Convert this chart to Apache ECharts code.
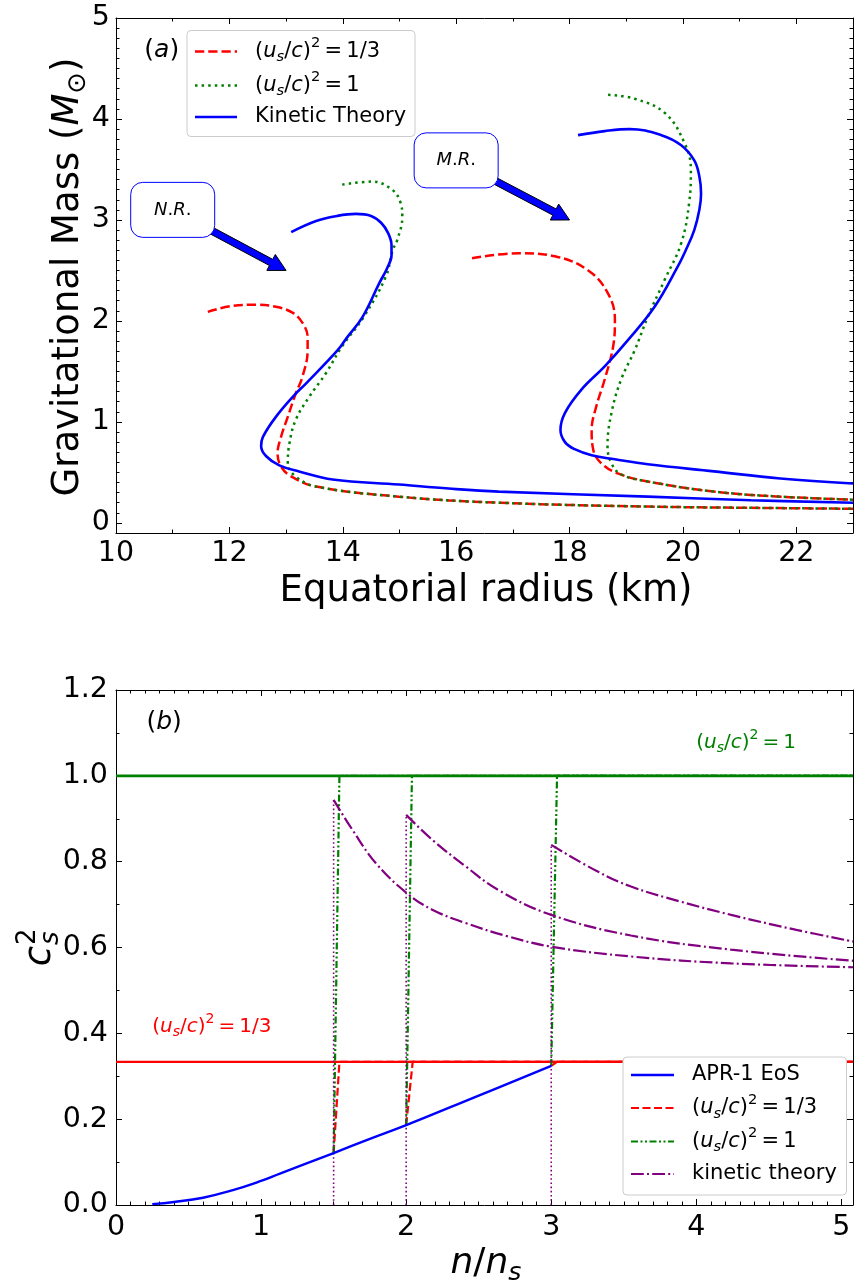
<!DOCTYPE html>
<html>
<head>
<meta charset="utf-8">
<script src="https://cdn.jsdelivr.net/npm/echarts@6/dist/echarts.min.js"></script>
<style>
  html, body { margin: 0; padding: 0; background: #fff; }
  #main { width: 856px; height: 1284px; }
</style>
</head>
<body>
<div id="main"></div>
<script>
// ---------- Panel (a): mass–radius curves, R in km, M in solar masses ----------
// N.R. branch
const nrKineticR = [13.09, 13.53, 13.9, 14.23, 14.5, 14.68, 14.80, 14.86, 14.86, 14.78, 14.64, 14.35, 14.08, 13.91, 13.35, 13.17, 12.82, 12.59, 12.56, 12.65, 12.88, 13.23, 13.82, 14.99, 15.87, 16.75, 19.38, 21.2, 23.0];
const nrKineticM = [2.88, 2.99, 3.04, 3.06, 3.04, 2.97, 2.87, 2.75, 2.65, 2.52, 2.37, 2.04, 1.84, 1.71, 1.38, 1.28, 1.05, 0.85, 0.76, 0.66, 0.57, 0.51, 0.43, 0.38, 0.34, 0.31, 0.26, 0.225, 0.20];
const nrThirdR = [11.62, 12.06, 12.47, 12.82, 13.12, 13.29, 13.38, 13.38, 13.29, 13.17, 13.03, 12.91, 12.85, 12.91, 13.09, 13.53, 14.99, 16.75, 19.38, 21.5, 23.0];
const nrThirdM = [2.09, 2.15, 2.16, 2.14, 2.08, 1.98, 1.84, 1.71, 1.45, 1.28, 1.05, 0.85, 0.69, 0.56, 0.46, 0.36, 0.26, 0.20, 0.162, 0.148, 0.14];
const nrOneR = [13.99, 14.52, 14.87, 15.02, 15.05, 14.96, 14.88, 14.76, 14.37, 13.99, 13.70, 13.41, 13.17, 13.06, 13.03, 13.17, 13.53, 14.99, 16.75, 19.38, 21.5, 23.0];
const nrOneM = [3.35, 3.38, 3.30, 3.17, 3.03, 2.80, 2.70, 2.44, 2.04, 1.75, 1.48, 1.25, 1.02, 0.79, 0.59, 0.46, 0.36, 0.26, 0.20, 0.162, 0.148, 0.14];
// M.R. branch
const mrKineticR = [18.15, 18.62, 19.06, 19.62, 19.97, 20.20, 20.29, 20.32, 20.29, 20.20, 20.05, 19.91, 19.50, 19.03, 18.62, 18.21, 17.92, 17.84, 17.92, 18.09, 18.39, 18.80, 19.38, 20.55, 21.72, 23.0];
const mrKineticM = [3.84, 3.88, 3.90, 3.84, 3.74, 3.59, 3.43, 3.26, 3.10, 2.90, 2.70, 2.54, 2.14, 1.81, 1.55, 1.32, 1.09, 0.92, 0.80, 0.73, 0.67, 0.63, 0.58, 0.51, 0.44, 0.39];
const mrThirdR = [16.28, 17.10, 17.74, 18.33, 18.68, 18.80, 18.77, 18.62, 18.47, 18.39, 18.42, 18.56, 18.85, 19.38, 20.55, 21.72, 23.0];
const mrThirdM = [2.62, 2.67, 2.64, 2.50, 2.27, 2.01, 1.75, 1.42, 1.15, 0.92, 0.72, 0.59, 0.49, 0.41, 0.31, 0.26, 0.23];
const mrOneR = [18.68, 19.15, 19.68, 20.03, 20.14, 20.11, 19.97, 19.68, 19.38, 19.15, 18.91, 18.74, 18.67, 18.74, 18.91, 19.38, 20.55, 21.72, 23.0];
const mrOneM = [4.24, 4.20, 4.06, 3.76, 3.50, 3.17, 2.77, 2.41, 2.04, 1.71, 1.42, 1.09, 0.76, 0.59, 0.48, 0.41, 0.31, 0.26, 0.23];

// ---------- Panel (b): squared sound speed vs n/n_s ----------
const aprN = [0.25, 0.4, 0.6, 0.8, 1.0, 1.13, 1.3, 1.5, 1.75, 2.0, 2.5, 3.0];
const aprCs2 = [0.002, 0.007, 0.017, 0.034, 0.056, 0.073, 0.095, 0.121, 0.154, 0.186, 0.255, 0.324];
const transN = [1.5, 2.0, 3.0];          // transition densities
const transCs2 = [0.121, 0.186, 0.324];  // APR-1 value at each transition
const thirdReachN = [1.54, 2.045, 3.04]; // where the 1/3 branch reaches 1/3
const oneReachN = [1.54, 2.04, 3.04];    // where the causal branch reaches 1
const kineticStart = [0.944, 0.909, 0.839];
const kt15N = [1.5, 1.63, 1.79, 2.0, 2.18, 2.41, 2.7, 3.0, 3.55, 4.24, 5.08];
const kt15 = [0.944, 0.874, 0.797, 0.728, 0.688, 0.657, 0.626, 0.602, 0.579, 0.563, 0.554];
const kt20N = [2.0, 2.18, 2.41, 2.64, 3.0, 3.55, 4.24, 5.08];
const kt20 = [0.909, 0.851, 0.789, 0.733, 0.676, 0.628, 0.595, 0.569];
const kt30N = [3.0, 3.32, 3.55, 3.89, 4.24, 4.69, 5.08];
const kt30 = [0.839, 0.777, 0.742, 0.707, 0.676, 0.641, 0.614];
const N_MAX = 5.08;
const CS2_THIRD = 1 / 3;
const CS2_ONE = 1;

// ---------- styles ----------
const FONT = 'DejaVu Sans';
const BLUE = '#0000ff', RED = '#ff0000', GREEN = '#008000', PURPLE = '#800080';
const stKineticA = { color: BLUE, width: 2.6, type: 'solid' };
const stThirdA = { color: RED, width: 2.5, type: [9.25, 4] };
const stOneA = { color: GREEN, width: 2.5, type: [2.5, 4.1] };
const stApr = { color: BLUE, width: 2.4, type: 'solid' };
const stThirdB = { color: RED, width: 2.2, type: [8, 3.5] };
const stOneB = { color: GREEN, width: 2.2, type: [7, 2.5, 2, 2.5, 2, 2.5] };
const stKineticB = { color: PURPLE, width: 2.2, type: [12.8, 3.2, 2, 3.2] };
const stVert = { color: PURPLE, width: 1.6, type: [1.6, 2.6] };

const zip = (xs, ys) => xs.map((x, i) => [x, ys[i]]);

function line(name, xi, yi, data, st, smooth, z) {
  return {
    type: 'line', name, xAxisIndex: xi, yAxisIndex: yi, data,
    showSymbol: false, symbol: 'none', smooth: smooth || false,
    lineStyle: { color: st.color, width: st.width, type: st.type, cap: 'butt' },
    itemStyle: { color: st.color }, silent: true, z: z || 2, clip: true
  };
}

function axis(gi, pos, min, max, extra) {
  return Object.assign({
    type: 'value', gridIndex: gi, position: pos, min, max,
    axisLine: { show: true, onZero: false, lineStyle: { color: '#000', width: 1 } },
    axisTick: { show: true, inside: true, length: 6, lineStyle: { color: '#000', width: 1 } },
    minorTick: { show: true, length: 3.5, lineStyle: { color: '#000', width: 1 } },
    splitLine: { show: false },
    minorSplitLine: { show: false },
    axisLabel: { show: false }
  }, extra);
}
const tickLabel = (fmt, margin) => ({
  show: true, color: '#000', fontFamily: FONT, fontSize: 28.5, margin, formatter: fmt
});
const minorTicks = (n) => ({ show: true, splitNumber: n, length: 3.5, lineStyle: { color: '#000' } });

const xAxes = [
  axis(0, 'bottom', 10, 23, { interval: 2, minorTick: minorTicks(2),
    axisLabel: tickLabel(v => (Math.abs(v % 2) < 1e-9 ? String(v) : ''), 6) }),
  axis(0, 'top', 10, 23, { interval: 2, minorTick: minorTicks(2) }),
  axis(1, 'bottom', 0, N_MAX, { interval: 1, minorTick: minorTicks(10),
    axisLabel: tickLabel(v => (Math.abs(v - Math.round(v)) < 1e-9 ? String(Math.round(v)) : ''), 8) }),
  axis(1, 'top', 0, N_MAX, { interval: 1, minorTick: minorTicks(10) })
];
const yAxes = [
  axis(0, 'left', -0.1, 5, { splitNumber: 5, minorTick: minorTicks(10),
    axisLabel: tickLabel(v => (Math.abs(v - Math.round(v)) < 1e-9 ? String(Math.round(v)) : ''), 6) }),
  axis(0, 'right', -0.1, 5, { splitNumber: 5, minorTick: minorTicks(10) }),
  axis(1, 'left', 0, 1.2, { interval: 0.2, minorTick: minorTicks(2),
    axisLabel: tickLabel(v => v.toFixed(1), 8) }),
  axis(1, 'right', 0, 1.2, { interval: 0.2, minorTick: minorTicks(2) })
];

const SMOOTH_A = 0.4;
const series = [
  // panel (a)
  line('third', 0, 0, zip(nrThirdR, nrThirdM), stThirdA, SMOOTH_A, 2),
  line('third', 0, 0, zip(mrThirdR, mrThirdM), stThirdA, SMOOTH_A, 2),
  line('one', 0, 0, zip(nrOneR, nrOneM), stOneA, SMOOTH_A, 3),
  line('one', 0, 0, zip(mrOneR, mrOneM), stOneA, SMOOTH_A, 3),
  line('kinetic', 0, 0, zip(nrKineticR, nrKineticM), stKineticA, SMOOTH_A, 4),
  line('kinetic', 0, 0, zip(mrKineticR, mrKineticM), stKineticA, SMOOTH_A, 4),
  // panel (b): reference levels
  line('level13', 2, 2, [[0, CS2_THIRD], [N_MAX, CS2_THIRD]], { color: RED, width: 2.2, type: 'solid' }, false, 2),
  line('level1', 2, 2, [[0, CS2_ONE], [N_MAX, CS2_ONE]], { color: GREEN, width: 2.8, type: 'solid' }, false, 2),
  line('apr', 2, 2, zip(aprN, aprCs2), stApr, 0.45, 5)
];
transN.forEach((n0, k) => {
  series.push(line('third', 2, 2, [[n0, transCs2[k]], [thirdReachN[k], CS2_THIRD], [N_MAX, CS2_THIRD]], stThirdB, false, 3));
  series.push(line('one', 2, 2, [[n0, transCs2[k]], [oneReachN[k], CS2_ONE], [N_MAX, CS2_ONE]], stOneB, false, 3));
  series.push(line('vert', 2, 2, [[n0, 0], [n0, kineticStart[k]]], stVert, false, 3));
});
series.push(line('kineticB', 2, 2, zip(kt15N, kt15), stKineticB, 0.4, 4));
series.push(line('kineticB', 2, 2, zip(kt20N, kt20), stKineticB, 0.4, 4));
series.push(line('kineticB', 2, 2, zip(kt30N, kt30), stKineticB, 0.4, 4));

const chart = echarts.init(document.getElementById('main'), null, { renderer: 'canvas' });
chart.setOption({
  animation: false,
  backgroundColor: '#fff',
  grid: [
    { left: 116, top: 18, width: 740, height: 515, containLabel: false },
    { left: 116, top: 690, width: 740, height: 515, containLabel: false }
  ],
  xAxis: xAxes,
  yAxis: yAxes,
  series
});

// ---------- text helpers ----------
function mathRich(size, color) {
  const base = { fontFamily: FONT, fontSize: size, fill: color, color: color };
  return {
    r: Object.assign({}, base),
    i: Object.assign({}, base, { fontStyle: 'italic' }),
    eq: Object.assign({}, base, { padding: [0, size * 0.2, 0, size * 0.2] }),
    sub: Object.assign({}, base, { fontSize: size * 0.7, fontStyle: 'italic', padding: [size * 0.55, 0, 0, 0] }),
    subr: Object.assign({}, base, { fontSize: size * 0.7, padding: [size * 0.55, 0, 0, 0] }),
    sup: Object.assign({}, base, { fontSize: size * 0.7, padding: [0, 0, size * 0.75, 0] })
  };
}
function textEl(x, y, text, size, color, align, extra) {
  return Object.assign({
    type: 'text', x, y, z: 120,
    style: {
      text, fill: color, fontFamily: FONT, fontSize: size,
      align: align, verticalAlign: 'middle', textAlign: align, textVerticalAlign: 'middle',
      rich: mathRich(size, color)
    }
  }, extra || {});
}
const US_THIRD = '{r|(}{i|u}{sub|s}{r|/}{i|c}{r|)}{sup|2}{eq|=}{r|1/3}';
const US_ONE = '{r|(}{i|u}{sub|s}{r|/}{i|c}{r|)}{sup|2}{eq|=}{r|1}';

function legendLine(x1, x2, y, st) {
  return {
    type: 'line', z: 121,
    shape: { x1, y1: y, x2, y2: y },
    style: { stroke: st.color, lineWidth: st.width, lineDash: st.type === 'solid' ? null : st.type, lineCap: 'butt' }
  };
}

function arrowEl(from, tip) {
  const dx = tip[0] - from[0], dy = tip[1] - from[1];
  const len = Math.hypot(dx, dy);
  const ux = dx / len, uy = dy / len, nx = -uy, ny = ux;
  const L = 17, W = 9, w = 3.5;
  const bx = tip[0] - ux * L, by = tip[1] - uy * L;
  const pts = [
    [from[0] + nx * w, from[1] + ny * w], [bx + nx * w, by + ny * w], [bx + nx * W, by + ny * W],
    [tip[0], tip[1]],
    [bx - nx * W, by - ny * W], [bx - nx * w, by - ny * w], [from[0] - nx * w, from[1] - ny * w]
  ];
  return { type: 'polygon', z: 110, shape: { points: pts }, style: { fill: BLUE, stroke: '#000', lineWidth: 1 } };
}
function boxEl(c, label) {
  return [
    { type: 'rect', z: 112, shape: { x: c[0] - 42, y: c[1] - 27.5, width: 84, height: 55, r: 12 },
      style: { fill: '#fff', stroke: BLUE, lineWidth: 1 } },
    textEl(c[0], c[1], label, 18, '#000', 'center', { z: 113 })
  ];
}

// ---------- overlays anchored in data coordinates ----------
const pa = (x, y) => chart.convertToPixel({ xAxisIndex: 0, yAxisIndex: 0 }, [x, y]);
const pb = (x, y) => chart.convertToPixel({ xAxisIndex: 2, yAxisIndex: 2 }, [x, y]);

const nrBox = pa(11.0, 3.10), mrBox = pa(16.0, 3.59);
const nrTip = pa(13.0, 2.5), mrTip = pa(18.0, 3.0);
const aLabel = pa(10.5, 4.68);
const bLabel = pb(0.21, 1.124);
const oneText = pb(4.0, 1.077);
const thirdText = pb(0.25, 0.415);

const g = [];
g.push(arrowEl(nrBox, nrTip), arrowEl(mrBox, mrTip));
g.push(...boxEl(nrBox, '{i|N}{r|.}{i|R}{r|.}'), ...boxEl(mrBox, '{i|M}{r|.}{i|R}{r|.}'));
g.push(textEl(aLabel[0], aLabel[1], '{r|(}{i|a}{r|)}', 25, '#000', 'left'));
g.push(textEl(bLabel[0], bLabel[1], '{r|(}{i|b}{r|)}', 25, '#000', 'left'));
g.push(textEl(oneText[0], oneText[1], US_ONE, 20, GREEN, 'left'));
g.push(textEl(thirdText[0], thirdText[1], US_THIRD, 20, RED, 'left'));

// legend, panel (a)
g.push({ type: 'rect', z: 115, shape: { x: 187, y: 30.5, width: 228, height: 106, r: 4 },
  style: { fill: '#fff', stroke: '#cccccc', lineWidth: 1 } });
[[51.5, stThirdA, US_THIRD], [85.5, stOneA, US_ONE], [117, stKineticA, '{r|Kinetic Theory}']].forEach(([y, st, t]) => {
  g.push(legendLine(195, 237, y, st));
  g.push(textEl(255, y, t, 21, '#000', 'left', { z: 122 }));
});
// legend, panel (b)
g.push({ type: 'rect', z: 115, shape: { x: 623, y: 1057, width: 223.5, height: 138, r: 4 },
  style: { fill: '#fff', stroke: '#cccccc', lineWidth: 1 } });
[[1075, stApr, '{r|APR-1 EoS}'], [1108, stThirdB, US_THIRD], [1141.5, stOneB, US_ONE], [1174, stKineticB, '{r|kinetic theory}']].forEach(([y, st, t]) => {
  g.push(legendLine(631, 674, y, st));
  g.push(textEl(692, y, t, 21, '#000', 'left', { z: 122 }));
});

// axis titles
g.push(textEl(486, 591, '{r|Equatorial radius (km)}', 37, '#000', 'center'));
g.push(textEl(68, 277, '{r|Gravitational Mass (}{i|M}{subr|⊙}{r|)}', 37, '#000', 'center', { rotation: Math.PI / 2 }));
g.push(textEl(486, 1264, '{i|n}{r|/}{i|n}{sub|s}', 36, '#000', 'center'));
// c_s^2 with stacked scripts, reading bottom to top
g.push({
  type: 'group', x: 40, y: 948, rotation: Math.PI / 2, z: 120,
  children: [
    { type: 'text', x: 2, y: 0, style: { text: 'c', fill: '#000', fontFamily: FONT, fontSize: 37, fontStyle: 'italic', align: 'right', verticalAlign: 'middle', textAlign: 'right', textVerticalAlign: 'middle' } },
    { type: 'text', x: 3, y: -12, style: { text: '2', fill: '#000', fontFamily: FONT, fontSize: 26, align: 'left', verticalAlign: 'middle', textAlign: 'left', textVerticalAlign: 'middle' } },
    { type: 'text', x: 3, y: 11, style: { text: 's', fill: '#000', fontFamily: FONT, fontSize: 26, fontStyle: 'italic', align: 'left', verticalAlign: 'middle', textAlign: 'left', textVerticalAlign: 'middle' } }
  ]
});

chart.setOption({ graphic: { elements: g } });
</script>
</body>
</html>
